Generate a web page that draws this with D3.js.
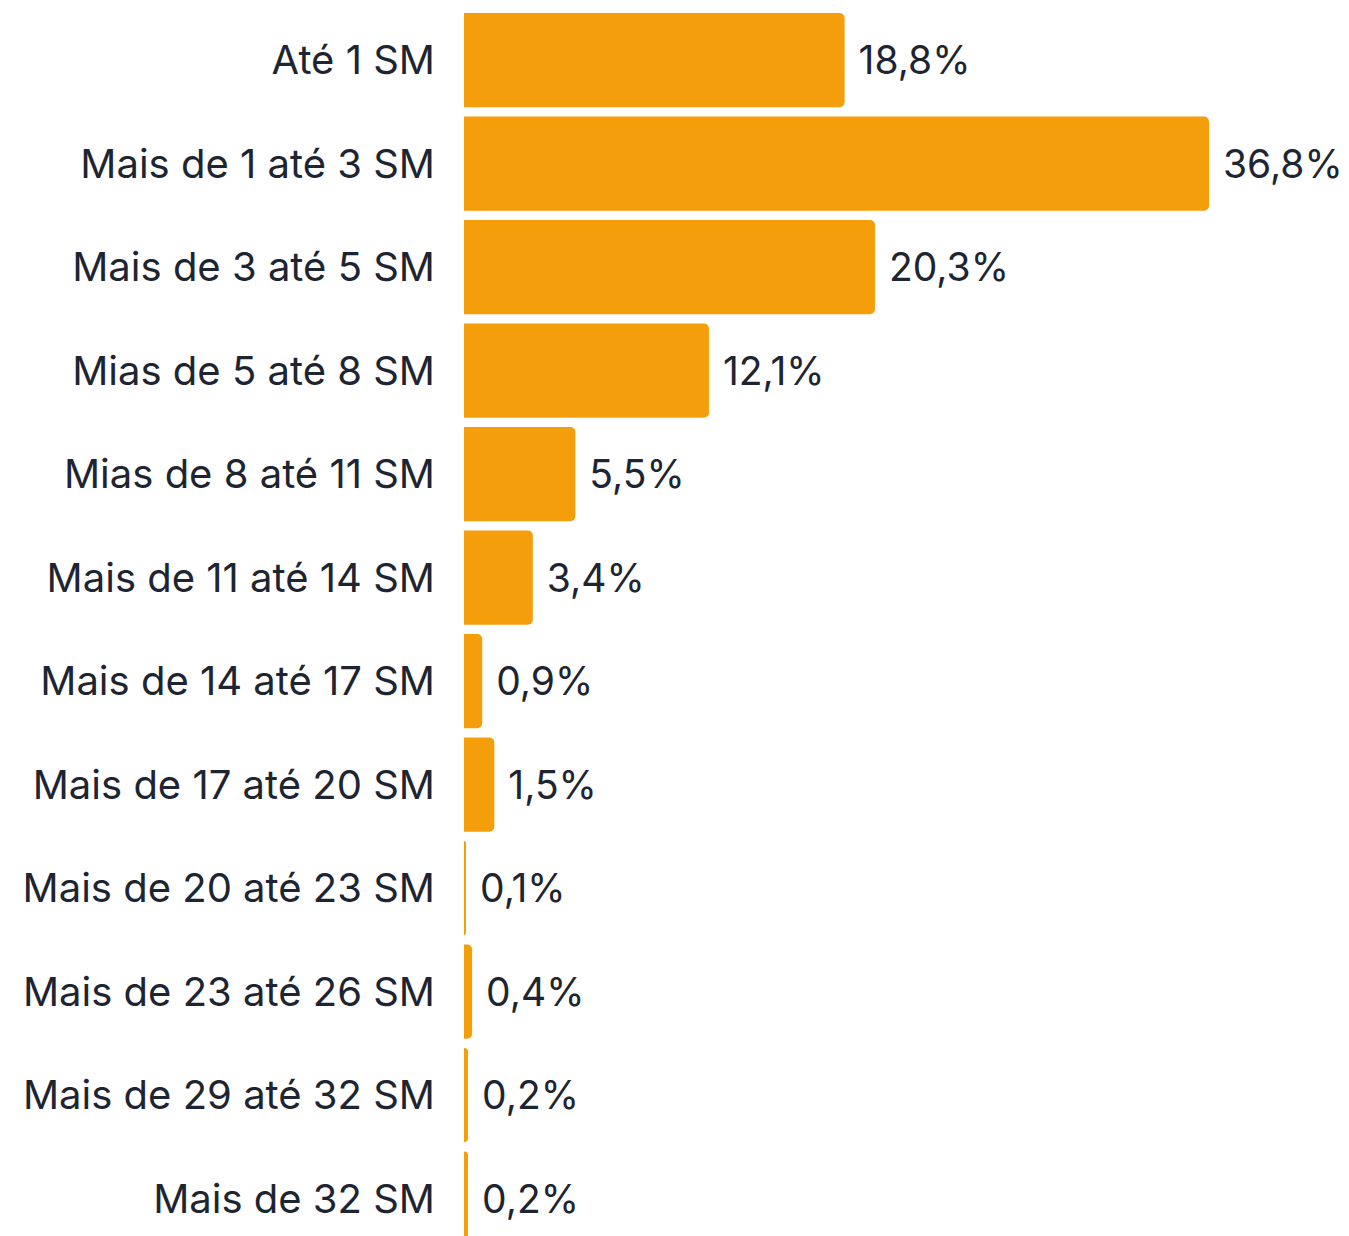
<!DOCTYPE html>
<meta charset="utf-8">
<script src="https://d3js.org/d3.v7.min.js"></script>
<style>
  body { margin: 0; background: #fff; }
  text { font-family: Inter, "Noto Sans", sans-serif; fill: #1e2532; }
</style>
<div id="my_dataviz"></div>
<script>

// categories and values (%)
var categories = ["Até 1 SM", "Mais de 1 até 3 SM", "Mais de 3 até 5 SM", "Mias de 5 até 8 SM",
  "Mias de 8 até 11 SM", "Mais de 11 até 14 SM", "Mais de 14 até 17 SM", "Mais de 17 até 20 SM",
  "Mais de 20 até 23 SM", "Mais de 23 até 26 SM", "Mais de 29 até 32 SM", "Mais de 32 SM"];
var values = [18.8, 36.8, 20.3, 12.1, 5.5, 3.4, 0.9, 1.5, 0.1, 0.4, 0.2, 0.2];
var valueLabels = ["18,8%", "36,8%", "20,3%", "12,1%", "5,5%", "3,4%", "0,9%", "1,5%", "0,1%", "0,4%", "0,2%", "0,2%"];

var data = categories.map(function(c, i) { return {cat: c, v: values[i], label: valueLabels[i]}; });

var width = 1349, height = 1236;
var left = 464;

var svg = d3.select("#my_dataviz")
  .append("svg")
    .attr("width", width)
    .attr("height", height);

var x = d3.scaleLinear()
  .domain([0, 36.8])
  .range([left, 1209]);

var y = d3.scaleBand()
  .domain(categories)
  .range([8.3, 8.3 + 103.5 * categories.length])
  .paddingInner(0.09)
  .paddingOuter(0.045);

var r = 5;
function barPath(d) {
  var x0 = x(0), x1 = x(d.v), y0 = y(d.cat), h = y.bandwidth();
  var rr = Math.min(r, (x1 - x0));
  return "M" + x0 + "," + y0 +
    "H" + (x1 - rr) +
    "A" + rr + "," + rr + " 0 0 1 " + x1 + "," + (y0 + rr) +
    "V" + (y0 + h - rr) +
    "A" + rr + "," + rr + " 0 0 1 " + (x1 - rr) + "," + (y0 + h) +
    "H" + x0 + "Z";
}

svg.append("g")
  .selectAll("path")
  .data(data)
  .enter()
  .append("path")
    .attr("d", barPath)
    .style("fill", "#f59e0b");

// category labels
svg.append("g")
  .selectAll("text")
  .data(data)
  .enter()
  .append("text")
    .attr("x", 435)
    .attr("y", function(d) { return y(d.cat) + y.bandwidth() / 2; })
    .attr("dy", "0.36em")
    .attr("text-anchor", "end")
    .style("font-size", "40px")
    .text(function(d) { return d.cat; });

// value labels
svg.append("g")
  .selectAll("text")
  .data(data)
  .enter()
  .append("text")
    .attr("x", function(d) { return x(d.v) + 14; })
    .attr("y", function(d) { return y(d.cat) + y.bandwidth() / 2; })
    .attr("dy", "0.36em")
    .style("font-size", "39px")
    .text(function(d) { return d.label; });

</script>
